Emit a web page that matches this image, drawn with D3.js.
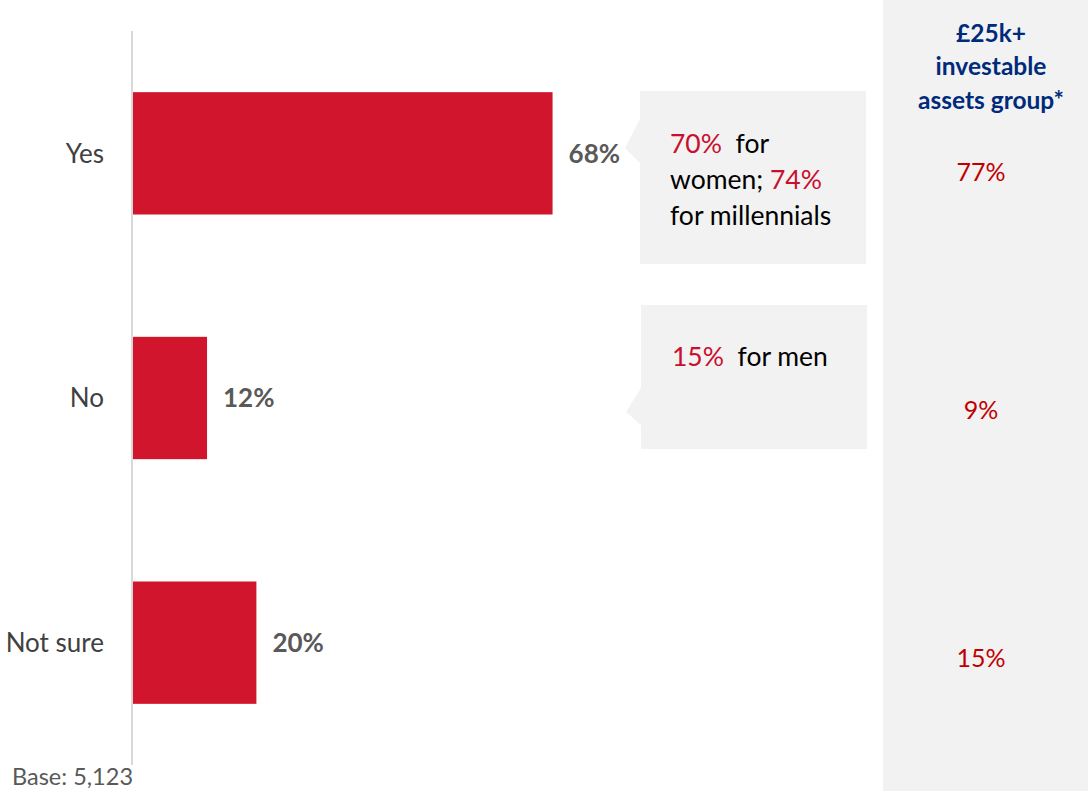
<!DOCTYPE html>
<html>
<head>
<meta charset="utf-8">
<script src="https://cdn.jsdelivr.net/npm/d3@7"></script>
<style>
  html, body { margin: 0; padding: 0; background: #ffffff; }
  svg { display: block; font-family: Lato, "Open Sans", sans-serif; }
</style>
</head>
<body>
<svg id="chart" width="1088" height="791"></svg>
<script>
// Survey answers and overall shares
const categories = ["Yes", "No", "Not sure"];
const shares = [68, 12, 20];
// Shares among the £25k+ investable assets group
const groupShares = [77, 9, 15];
const groupTitle = ["£25k+", "investable", "assets group*"];
const baseNote = "Base: 5,123";

// Callout text pieces: [text, highlighted?]
const callouts = [
  { row: 0, lines: [[["70%", true], ["  for", false]], [["women; ", false], ["74%", true]], [["for millennials", false]]] },
  { row: 1, lines: [[["15%", true], ["  for men", false]]] }
];

const svg = d3.select("#chart");
const W = 1088, H = 791;

const barRed = "#d0152d";
const textRed = "#c8102e";
const valRed = "#c00000";

// Right-hand panel for the asset group
svg.append("rect").attr("x", 883).attr("y", 0).attr("width", W - 883).attr("height", H).attr("fill", "#f2f2f2");

const y = d3.scaleBand().domain(categories).range([31, 765]).paddingInner(0.5).paddingOuter(0.25);
const x = d3.scaleLinear().domain([0, 100]).range([133, 750]);

// Vertical baseline
svg.append("line").attr("x1", 132).attr("x2", 132).attr("y1", 31).attr("y2", 765)
  .attr("stroke", "#d9d9d9").attr("stroke-width", 2);

// Bars
svg.selectAll("rect.bar").data(categories).join("rect").attr("class", "bar")
  .attr("x", x(0)).attr("y", d => y(d))
  .attr("width", (d, i) => x(shares[i]) - x(0))
  .attr("height", y.bandwidth()).attr("fill", barRed);

// Value labels
svg.selectAll("text.val").data(categories).join("text").attr("class", "val")
  .attr("x", (d, i) => x(shares[i]) + 16)
  .attr("y", d => y(d) + y.bandwidth() / 2)
  .attr("dy", "0.36em").attr("font-size", 26).attr("font-weight", "bold").attr("fill", "#595959")
  .text((d, i) => shares[i] + "%");

// Category labels
svg.selectAll("text.cat").data(categories).join("text").attr("class", "cat")
  .attr("x", 104).attr("y", d => y(d) + y.bandwidth() / 2)
  .attr("dy", "0.36em").attr("text-anchor", "end").attr("font-size", 26).attr("fill", "#404040")
  .text(d => d);

// Callout boxes with left-pointing notch
const boxes = [
  { x0: 640, y0: 91, x1: 866, y1: 264, tipX: 625, tipY: 148, b0: 119, b1: 163, textX: 670, textY: 143 },
  { x0: 641, y0: 305, x1: 867, y1: 449, tipX: 626, tipY: 412, b0: 388, b1: 425, textX: 672, textY: 356 }
];
callouts.forEach((c, k) => {
  const b = boxes[k];
  const p = d3.path();
  p.moveTo(b.x0, b.y0); p.lineTo(b.x1, b.y0); p.lineTo(b.x1, b.y1); p.lineTo(b.x0, b.y1);
  p.lineTo(b.x0, b.b1); p.lineTo(b.tipX, b.tipY); p.lineTo(b.x0, b.b0); p.closePath();
  svg.append("path").attr("d", p.toString()).attr("fill", "#f2f2f2");
  c.lines.forEach((ln, li) => {
    const t = svg.append("text").attr("x", b.textX).attr("y", b.textY + li * 36)
      .attr("dy", "0.36em").attr("font-size", 26.5).attr("xml:space", "preserve");
    ln.forEach(([s, hi]) => {
      t.append("tspan").attr("fill", hi ? textRed : "#000000")
        .style("white-space", "pre").text(s);
    });
  });
});

// Asset group header and values
svg.selectAll("text.gt").data(groupTitle).join("text").attr("class", "gt")
  .attr("x", 991).attr("y", (d, i) => 33 + i * 33.5).attr("dy", "0.36em")
  .attr("text-anchor", "middle").attr("font-size", 24.5).attr("font-weight", "bold").attr("fill", "#002a7a")
  .text(d => d);
const groupValueShift = [19, 12, 15];
svg.selectAll("text.gv").data(categories).join("text").attr("class", "gv")
  .attr("x", 981).attr("y", (d, i) => y(d) + y.bandwidth() / 2 + groupValueShift[i]).attr("dy", "0.36em")
  .attr("text-anchor", "middle").attr("font-size", 25).attr("fill", valRed)
  .text((d, i) => groupShares[i] + "%");

// Base note
svg.append("text").attr("x", 12).attr("y", 777).attr("dy", "0.36em")
  .attr("font-size", 23.5).attr("fill", "#595959").text(baseNote);
</script>
</body>
</html>
